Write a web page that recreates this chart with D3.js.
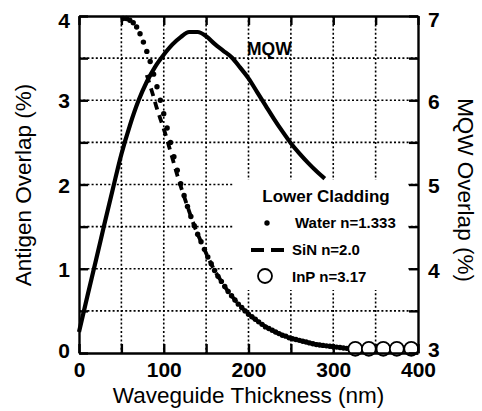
<!DOCTYPE html>
<html>
<head>
<meta charset="utf-8">
<script src="https://cdn.jsdelivr.net/npm/d3@7"></script>
<style>
body { margin: 0; background: #fff; }
svg { display: block; font-family: Arial, "Liberation Sans", sans-serif; }
.axis text { font-size: 21px; font-weight: bold; fill: #000; }
</style>
</head>
<body>
<div id="chart"></div>
<script>
// MQW overlap (right axis, %)
var mqwThickness = [0, 10, 20, 30, 40, 50, 60, 70, 80, 90, 100, 110, 120, 130, 140, 150, 160, 170, 180, 190, 200, 210, 220, 230, 240, 250, 260, 270, 280, 290];
var mqwOverlap = [3.25, 3.68, 4.10, 4.53, 4.95, 5.36, 5.70, 5.99, 6.22, 6.40, 6.54, 6.66, 6.75, 6.81, 6.81, 6.76, 6.67, 6.59, 6.51, 6.39, 6.26, 6.10, 5.94, 5.78, 5.63, 5.49, 5.37, 5.26, 5.16, 5.07];

// antigen overlap, water lower cladding (left axis, %)
var waterThickness = [52, 56, 60, 64, 68, 72, 76, 80, 84, 88, 92, 96, 100, 104, 108, 112, 116, 120, 124, 128, 132, 136, 140, 144, 148, 152, 156, 160, 164, 168, 172, 176, 180, 184, 188, 192, 196, 200, 204, 208, 212, 216, 220, 224, 228, 232, 236, 240, 244, 248, 252, 256, 260, 264, 268, 272, 276, 280, 284, 288, 292, 296, 300, 304, 308, 312, 316, 320];
var waterOverlap = [3.97, 3.97, 3.95, 3.92, 3.87, 3.79, 3.69, 3.58, 3.46, 3.31, 3.16, 3.00, 2.84, 2.67, 2.50, 2.33, 2.17, 2.01, 1.87, 1.74, 1.62, 1.51, 1.41, 1.32, 1.23, 1.14, 1.06, 0.98, 0.91, 0.85, 0.79, 0.73, 0.68, 0.63, 0.58, 0.54, 0.50, 0.46, 0.43, 0.40, 0.37, 0.34, 0.31, 0.29, 0.27, 0.25, 0.23, 0.21, 0.20, 0.18, 0.17, 0.16, 0.15, 0.14, 0.13, 0.12, 0.11, 0.10, 0.095, 0.09, 0.085, 0.08, 0.075, 0.07, 0.065, 0.06, 0.055, 0.05];

// antigen overlap, SiN lower cladding
var sinThickness = [80, 84, 88, 92, 96, 100, 104, 108, 112, 116, 120, 128, 136, 144, 152, 160, 168, 176, 184, 192, 200, 212, 224, 236, 248, 260, 272, 284, 296, 308, 320];
var sinOverlap = [3.30, 3.17, 3.04, 2.90, 2.78, 2.66, 2.53, 2.39, 2.25, 2.11, 1.98, 1.74, 1.51, 1.32, 1.14, 0.98, 0.85, 0.73, 0.63, 0.54, 0.46, 0.37, 0.29, 0.23, 0.18, 0.15, 0.12, 0.095, 0.08, 0.065, 0.05];

// antigen overlap, InP lower cladding
var inpThickness = [326, 342, 359, 375, 392];
var inpOverlap = [0.05, 0.05, 0.05, 0.05, 0.05];

// ticks
var xTicks = [0, 50, 100, 150, 200, 250, 300, 350, 400];
var xTickLabels = [0, 100, 200, 300, 400];
var leftTicks = [0, 0.5, 1, 1.5, 2, 2.5, 3, 3.5, 4];
var leftTickLabels = [0, 1, 2, 3, 4];
var rightTicks = [3, 3.5, 4, 4.5, 5, 5.5, 6, 6.5, 7];
var rightTickLabels = [3, 4, 5, 6, 7];

var legendTitle = "Lower Cladding";
var legendLabels = ["Water n=1.333", "SiN n=2.0", "InP n=3.17"];

var margin = {top: 16, right: 64, bottom: 58, left: 79};
var width = 482 - margin.left - margin.right;
var height = 411 - margin.top - margin.bottom;

var xScale = d3.scaleLinear().domain([0, 400]).range([0, width]);
var yLeft = d3.scaleLinear().domain([0, 4]).range([height, 0]);
var yRight = d3.scaleLinear().domain([3, 7]).range([height, 0]);

var svg = d3.select("#chart")
    .append("svg")
    .attr("width", width + margin.left + margin.right)
    .attr("height", height + margin.top + margin.bottom)
    .append("g")
    .attr("transform", "translate(" + margin.left + "," + margin.top + ")");

// dotted grid
svg.selectAll(".vgrid")
    .data(xTicks.slice(1, -1))
    .enter()
    .append("line")
    .attr("class", "vgrid")
    .attr("x1", function(d) { return xScale(d); })
    .attr("x2", function(d) { return xScale(d); })
    .attr("y1", 0)
    .attr("y2", height)
    .attr("stroke", "#000")
    .attr("stroke-width", 1.6)
    .attr("stroke-dasharray", "2,2.2");

svg.selectAll(".hgrid")
    .data(leftTicks.slice(1, -1))
    .enter()
    .append("line")
    .attr("class", "hgrid")
    .attr("x1", 0)
    .attr("x2", width)
    .attr("y1", function(d) { return yLeft(d); })
    .attr("y2", function(d) { return yLeft(d); })
    .attr("stroke", "#000")
    .attr("stroke-width", 1.6)
    .attr("stroke-dasharray", "2,2.2");

// legend box covers the grid
var legend = svg.append("g")
    .attr("transform", "translate(" + (234 - margin.left) + "," + (180 - margin.top) + ")");

legend.append("rect")
    .attr("width", 174)
    .attr("height", 110)
    .attr("fill", "#fff");

// MQW curve
var mqwLine = d3.line()
    .x(function(d, i) { return xScale(mqwThickness[i]); })
    .y(function(d) { return yRight(d); })
    .curve(d3.curveMonotoneX);

svg.append("path")
    .datum(mqwOverlap)
    .attr("fill", "none")
    .attr("stroke", "#000")
    .attr("stroke-width", 4.2)
    .attr("d", mqwLine);

svg.append("text")
    .attr("x", 247 - margin.left)
    .attr("y", 55 - margin.top)
    .style("font-size", "17.5px")
    .style("font-weight", "bold")
    .text("MQW");

// SiN dashed curve
var sinLine = d3.line()
    .x(function(d, i) { return xScale(sinThickness[i]); })
    .y(function(d) { return yLeft(d); })
    .curve(d3.curveMonotoneX);

svg.append("path")
    .datum(sinOverlap)
    .attr("fill", "none")
    .attr("stroke", "#000")
    .attr("stroke-width", 3.8)
    .attr("stroke-dasharray", "8,6")
    .attr("d", sinLine);

// water dots
svg.selectAll(".water")
    .data(waterOverlap)
    .enter()
    .append("circle")
    .attr("class", "water")
    .attr("cx", function(d, i) { return xScale(waterThickness[i]); })
    .attr("cy", function(d) { return yLeft(d); })
    .attr("r", 2.7)
    .attr("fill", "#000");

// InP open circles
svg.selectAll(".inp")
    .data(inpOverlap)
    .enter()
    .append("circle")
    .attr("class", "inp")
    .attr("cx", function(d, i) { return xScale(inpThickness[i]); })
    .attr("cy", function(d) { return yLeft(d); })
    .attr("r", 7)
    .attr("fill", "#fff")
    .attr("stroke", "#000")
    .attr("stroke-width", 1.8);

// axes, ticks pointing inward
function styleAxis(g) {
    g.selectAll("path, line")
        .attr("stroke", "#000")
        .attr("stroke-width", 2.4);
}

svg.append("g")
    .attr("class", "axis")
    .attr("transform", "translate(0," + height + ")")
    .call(d3.axisBottom(xScale).tickValues(xTicks).tickSizeInner(-9).tickSizeOuter(0).tickPadding(9)
        .tickFormat(function(d) { return xTickLabels.indexOf(d) >= 0 ? d : ""; }))
    .call(styleAxis);

svg.append("g")
    .attr("class", "axis")
    .call(d3.axisTop(xScale).tickValues(xTicks).tickSizeInner(-9).tickSizeOuter(0).tickFormat(""))
    .call(styleAxis);

svg.append("g")
    .attr("class", "axis y-left")
    .call(d3.axisLeft(yLeft).tickValues(leftTicks).tickSizeInner(-9).tickSizeOuter(0).tickPadding(9)
        .tickFormat(function(d) { return leftTickLabels.indexOf(d) >= 0 ? d : ""; }))
    .call(styleAxis);

svg.append("g")
    .attr("class", "axis y-right")
    .attr("transform", "translate(" + width + ",0)")
    .call(d3.axisRight(yRight).tickValues(rightTicks).tickSizeInner(-9).tickSizeOuter(0).tickPadding(10)
        .tickFormat(function(d) { return rightTickLabels.indexOf(d) >= 0 ? d : ""; }))
    .call(styleAxis);

// nudge the end labels like the original
svg.select(".y-left").selectAll("text")
    .attr("dy", function(d) { return d === 4 ? "0.55em" : (d === 0 ? "0.2em" : "0.36em"); });
svg.select(".y-right").selectAll("text")
    .attr("dy", function(d) { return d === 7 ? "0.5em" : (d === 3 ? "0.15em" : "0.4em"); });

// axis titles
svg.append("text")
    .attr("x", width / 2)
    .attr("y", height + 50)
    .style("text-anchor", "middle")
    .style("font-size", "22.5px")
    .text("Waveguide Thickness (nm)");

svg.append("text")
    .attr("transform", "rotate(-90)")
    .attr("x", -(185 - margin.top))
    .attr("y", 31 - margin.left)
    .style("text-anchor", "middle")
    .style("font-size", "22.5px")
    .text("Antigen Overlap (%)");

svg.append("text")
    .attr("transform", "translate(" + (458 - margin.left) + "," + (190 - margin.top) + ") rotate(90)")
    .style("text-anchor", "middle")
    .style("font-size", "22.5px")
    .text("MQW Overlap (%)");

// legend content
legend.append("text")
    .attr("x", 92)
    .attr("y", 22)
    .style("text-anchor", "middle")
    .style("font-size", "17px")
    .style("font-weight", "bold")
    .text(legendTitle);

legend.append("circle")
    .attr("cx", 33)
    .attr("cy", 43)
    .attr("r", 2.7)
    .attr("fill", "#000");

legend.append("line")
    .attr("x1", 17)
    .attr("x2", 51)
    .attr("y1", 70)
    .attr("y2", 70)
    .attr("stroke", "#000")
    .attr("stroke-width", 3.8)
    .attr("stroke-dasharray", "13,7");

legend.append("circle")
    .attr("cx", 31)
    .attr("cy", 96)
    .attr("r", 7)
    .attr("fill", "#fff")
    .attr("stroke", "#000")
    .attr("stroke-width", 1.8);

legend.selectAll(".legend-label")
    .data(legendLabels)
    .enter()
    .append("text")
    .attr("class", "legend-label")
    .attr("x", function(d, i) { return i === 0 ? 61 : 58; })
    .attr("y", function(d, i) { return 48 + i * 27; })
    .style("font-size", "15px")
    .style("font-weight", "bold")
    .text(function(d) { return d; });
</script>
</body>
</html>
